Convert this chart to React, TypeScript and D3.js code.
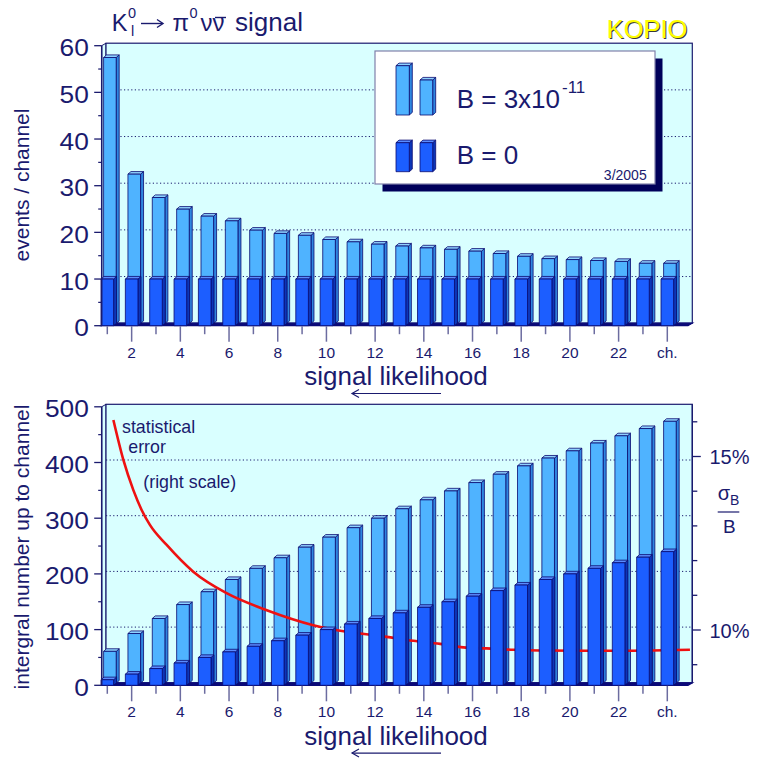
import React from "react";
import * as d3 from "d3";

// ---------------- data ----------------
const channels = [1, 2, 3, 4, 5, 6, 7, 8, 9, 10, 11, 12, 13, 14, 15, 16, 17, 18, 19, 20, 21, 22, 23, 24];
const channelLabels = ["", "2", "", "4", "", "6", "", "8", "", "10", "", "12", "", "14", "", "16", "", "18", "", "20", "", "22", "", "ch."];

// events / channel, B = 3x10^-11 (signal + background)
const signalPerChannel = [57.0, 32.0, 27.0, 24.5, 23.0, 22.0, 20.0, 19.3, 18.9, 18.0, 17.5, 17.0, 16.6, 16.2, 15.9, 15.5, 15.0, 14.4, 13.9, 13.7, 13.5, 13.3, 12.9, 12.9];
// events / channel, B = 0 (background only)
const bgPerChannel = [10, 10, 10, 10, 10, 10, 10, 10, 10, 10, 10, 10, 10, 10, 10, 10, 10, 10, 10, 10, 10, 10, 10, 10];

// integral number up to channel
const signalIntegral = [57, 89, 116, 141, 164, 186, 206, 225, 244, 262, 279, 296, 313, 329, 345, 360, 375, 390, 404, 417, 431, 444, 457, 470];
const bgIntegral = [10, 20, 30, 40, 50, 60, 70, 80, 90, 100, 110, 120, 130, 140, 150, 160, 170, 180, 190, 200, 210, 220, 230, 240];

// statistical error sigma_B / B (%) vs. channel position (right scale)
const errX = [1.25, 1.66, 2.07, 2.41, 2.75, 3.44, 4.53, 5.9, 7.55, 9.46, 10.83, 12.2, 13.57, 14.67, 15.62, 16.58, 17.67, 18.77, 21.51, 24.93];
const errPct = [16.05, 14.9, 14.03, 13.46, 13.03, 12.45, 11.68, 11.06, 10.57, 10.14, 9.95, 9.83, 9.69, 9.6, 9.5, 9.47, 9.43, 9.41, 9.4, 9.43];

const topMajor = [0, 10, 20, 30, 40, 50, 60];
const topMinor = [5, 15, 25, 35, 45, 55];
const botMajor = [0, 100, 200, 300, 400, 500];
const botMinor = [50, 150, 250, 350, 450];
const pctTicks = [9, 10, 11, 12, 13, 14, 15, 16];
const pctLabels = [10, 15];

// ---------------- style ----------------
const NAVY = "#1a1a6e";
const FONT = "'Liberation Sans', Arial, Helvetica, sans-serif";
const WALL = "#d9ffff";
const LIGHT = { face: "#4fb3ff", side: "#2f86e0", top: "#8fd2ff" };
const DARK = { face: "#1c5eff", side: "#0c36b8", top: "#5a8cff" };
const X0 = 101.7;
const X1 = 688;
const WDX = 4.3;
const WDY = -2.5;
const BAR_W = 12.6;
const BDX = 3;
const BDY = -2.6;
const ROW_DX = 2.6;
const ROW_DY = -2.2;

const xScale = d3.scaleLinear().domain([1, 24]).range([107.3, 667.3]);

type Col = { face: string; side: string; top: string };

function Bar3D({ x, yb, yt, w, c }: { x: number; yb: number; yt: number; w: number; c: Col }) {
  const sw = 0.8;
  return (
    <g stroke="#0a0a70" strokeWidth={sw} strokeLinejoin="round">
      <polygon
        points={`${x + w},${yt} ${x + w + BDX},${yt + BDY} ${x + w + BDX},${yb + BDY} ${x + w},${yb}`}
        fill={c.side}
      />
      <polygon
        points={`${x},${yt} ${x + BDX},${yt + BDY} ${x + w + BDX},${yt + BDY} ${x + w},${yt}`}
        fill={c.top}
      />
      <rect x={x} y={yt} width={w} height={Math.max(0, yb - yt)} fill={c.face} />
    </g>
  );
}

function Panel({
  y,
  major,
  minor,
  back,
  front,
  middle,
}: {
  y: d3.ScaleLinear<number, number>;
  major: number[];
  minor: number[];
  back: number[];
  front: number[];
  middle?: React.ReactNode;
}) {
  const [dMin, dMax] = y.domain();
  const yb = y(dMin);
  const yt = y(dMax);
  const gridVals = major.filter((v) => v !== dMin && v !== dMax);
  return (
    <g>
      {/* side wall */}
      <polygon
        points={`${X0},${yt} ${X0 + WDX},${yt + WDY} ${X0 + WDX},${yb + WDY} ${X0},${yb}`}
        fill={WALL}
        stroke={NAVY}
        strokeWidth={1}
      />
      {/* back wall */}
      <rect
        x={X0 + WDX}
        y={yt + WDY}
        width={X1 - X0}
        height={yb - yt}
        fill={WALL}
        stroke={NAVY}
        strokeWidth={1.2}
      />
      {/* grid */}
      {gridVals.map((v) => (
        <line
          key={v}
          x1={X0 + WDX}
          x2={X1 + WDX}
          y1={y(v) + WDY}
          y2={y(v) + WDY}
          stroke={NAVY}
          strokeWidth={1}
          strokeDasharray="1.2 2.4"
        />
      ))}
      {/* floor */}
      <polygon
        points={`${X0},${yb} ${X1},${yb} ${X1 + WDX},${yb + WDY} ${X0 + WDX},${yb + WDY}`}
        fill="#0a0a78"
        stroke="#0a0a78"
        strokeWidth={1.2}
      />
      {/* back row */}
      {channels.map((c, i) => (
        <Bar3D
          key={"b" + c}
          x={xScale(c) - BAR_W / 2 + ROW_DX}
          yb={yb + ROW_DY}
          yt={y(back[i]) + ROW_DY}
          w={BAR_W}
          c={LIGHT}
        />
      ))}
      {middle}
      {/* front row */}
      {channels.map((c, i) => (
        <Bar3D key={"f" + c} x={xScale(c) - BAR_W / 2} yb={yb} yt={y(front[i])} w={BAR_W} c={DARK} />
      ))}
      {/* left axis */}
      <line x1={X0} x2={X0} y1={yt} y2={yb} stroke={NAVY} strokeWidth={1.5} />
      {major.map((v) => (
        <g key={"m" + v}>
          <line x1={X0 - 7.5} x2={X0} y1={y(v)} y2={y(v)} stroke={NAVY} strokeWidth={1.3} />
          <text
            transform={`translate(88.8,${y(v) + 10.5}) scale(1.12,1)`}
            textAnchor="end"
            fontSize={23.5}
            fontFamily={FONT}
            fill={NAVY}
          >
            {v}
          </text>
        </g>
      ))}
      {minor.map((v) => (
        <line key={"n" + v} x1={X0 - 3.5} x2={X0} y1={y(v)} y2={y(v)} stroke={NAVY} strokeWidth={1.2} />
      ))}
      {/* x axis ticks */}
      {channels.map((c, i) => (
        <g key={"x" + c}>
          <line
            x1={xScale(c)}
            x2={xScale(c)}
            y1={yb + 0.5}
            y2={yb + (c % 2 === 0 ? 16 : 8.5)}
            stroke="#6c6ca0"
            strokeWidth={1.5}
          />
          {channelLabels[i] && (
            <text
              x={xScale(c)}
              y={yb + 31.8}
              textAnchor="middle"
              fontSize={15.5}
              fontFamily={FONT}
              fill={NAVY}
            >
              {channelLabels[i]}
            </text>
          )}
        </g>
      ))}
      {/* x axis title + arrow */}
      <text x={396} y={yb + 59.5} textAnchor="middle" fontSize={26} fontFamily={FONT} fill={NAVY}>
        signal likelihood
      </text>
      <g stroke={NAVY} strokeWidth={1.2} fill="none">
        <line x1={352} x2={441} y1={yb + 67.8} y2={yb + 67.8} />
        <polyline points={`${359},${yb + 63.8} ${352},${yb + 67.8} ${359},${yb + 71.8}`} />
      </g>
    </g>
  );
}

export default function App() {
  const yTop = d3.scaleLinear().domain([0, 60]).range([325.7, 45.7]);
  const yBot = d3.scaleLinear().domain([0, 500]).range([685.3, 406.8]);
  const yPct = d3.scaleLinear().domain([10, 15]).range([630, 456.5]);

  const errLine = d3
    .line<number>()
    .x((_, i) => xScale(errX[i]))
    .y((d) => yPct(d))
    .curve(d3.curveMonotoneX)(errPct) as string;

  const rightX = X1 + WDX;

  return (
    <svg
      width={757}
      height={760}
      style={{ position: "absolute", left: 0, top: 0, display: "block", background: "#fff" }}
      fontFamily={FONT}
    >
      {/* Title */}
      <g fill={NAVY} fontFamily={FONT}>
        <text x={111.7} y={31} fontSize={23.5}>K</text>
        <text x={128} y={18.3} fontSize={14.5}>0</text>
        <text x={131} y={35.5} fontSize={14.5}>l</text>
        <g stroke={NAVY} strokeWidth={1.4} fill="none">
          <line x1={141} x2={162.5} y1={23.5} y2={23.5} />
          <polyline points="157,19.5 163,23.5 157,27.5" />
        </g>
        <text x={172.5} y={31} fontSize={24}>π</text>
        <text x={189.5} y={18.3} fontSize={14.5}>0</text>
        <text x={200.5} y={31} fontSize={24}>νν</text>
        <line x1={215} x2={226} y1={17.5} y2={17.5} stroke={NAVY} strokeWidth={1.4} />
        <text x={235} y={31} fontSize={26}>signal</text>
      </g>
      {/* KOPIO */}
      <text x={607.7} y={39.2} fontSize={25.5} fill="#3a3a3a" fontFamily={FONT}>KOPIO</text>
      <text x={606.7} y={38.2} fontSize={25.5} fill="#ffff00" fontFamily={FONT}>KOPIO</text>

      {/* Y axis titles */}
      <text
        transform="translate(28.5,185) rotate(-90)"
        textAnchor="middle"
        fontSize={21}
        fill={NAVY}
        fontFamily={FONT}
      >
        events / channel
      </text>
      <text
        transform="translate(28.5,547) rotate(-90)"
        textAnchor="middle"
        fontSize={21}
        fill={NAVY}
        fontFamily={FONT}
      >
        intergral number up to channel
      </text>

      {/* Top panel */}
      <Panel y={yTop} major={topMajor} minor={topMinor} back={signalPerChannel} front={bgPerChannel} />

      {/* Legend */}
      <rect x={382.5} y={58.5} width={280} height={133} fill="#00005a" />
      <rect x={375} y={51} width={280} height={133} fill="#fff" stroke="#8080aa" strokeWidth={1.2} />
      <Bar3D x={396} yb={115} yt={65.7} w={13.3} c={LIGHT} />
      <Bar3D x={420} yb={115} yt={80} w={12.7} c={LIGHT} />
      <Bar3D x={396} yb={171.7} yt={142.7} w={13.3} c={DARK} />
      <Bar3D x={420} yb={171.7} yt={142.7} w={12.7} c={DARK} />
      <text x={456.7} y={108.3} fontSize={26} fill={NAVY} fontFamily={FONT}>
        B = 3x10
      </text>
      <text x={562} y={93} fontSize={17} fill={NAVY} fontFamily={FONT}>
        -11
      </text>
      <text x={456.7} y={164.3} fontSize={26} fill={NAVY} fontFamily={FONT}>
        B = 0
      </text>
      <text x={646.7} y={180} fontSize={14} textAnchor="end" fill={NAVY} fontFamily={FONT}>
        3/2005
      </text>

      {/* Bottom panel */}
      <Panel
        y={yBot}
        major={botMajor}
        minor={botMinor}
        back={signalIntegral}
        front={bgIntegral}
        middle={<path d={errLine} fill="none" stroke="#ee1111" strokeWidth={2.6} />}
      />

      {/* Right axis */}
      <line x1={rightX} x2={rightX} y1={yBot(500) + WDY} y2={yBot(0) + WDY} stroke={NAVY} strokeWidth={1.3} />
      {pctTicks.map((p) => (
        <line
          key={p}
          x1={rightX}
          x2={rightX + (pctLabels.includes(p) ? 8.5 : 5)}
          y1={yPct(p)}
          y2={yPct(p)}
          stroke={NAVY}
          strokeWidth={1.3}
        />
      ))}
      {pctLabels.map((p) => (
        <text key={"l" + p} x={709.5} y={yPct(p) + 7.8} fontSize={20} fill={NAVY} fontFamily={FONT}>
          {p}%
        </text>
      ))}
      {/* sigma_B / B */}
      <text x={717.8} y={500} fontSize={20} fill={NAVY} fontFamily={FONT}>σ</text>
      <text x={730} y={505} fontSize={14} fill={NAVY} fontFamily={FONT}>B</text>
      <line x1={717.7} x2={739.3} y1={512} y2={512} stroke={NAVY} strokeWidth={1.2} />
      <text x={729.3} y={533.3} fontSize={19} textAnchor="middle" fill={NAVY} fontFamily={FONT}>B</text>

      {/* annotations */}
      <g fill={NAVY} fontFamily={FONT} fontSize={17.8}>
        <text x={122} y={433.3}>statistical</text>
        <text x={128.3} y={453.3}>error</text>
        <text x={143.3} y={488.3}>(right scale)</text>
      </g>
    </svg>
  );
}
